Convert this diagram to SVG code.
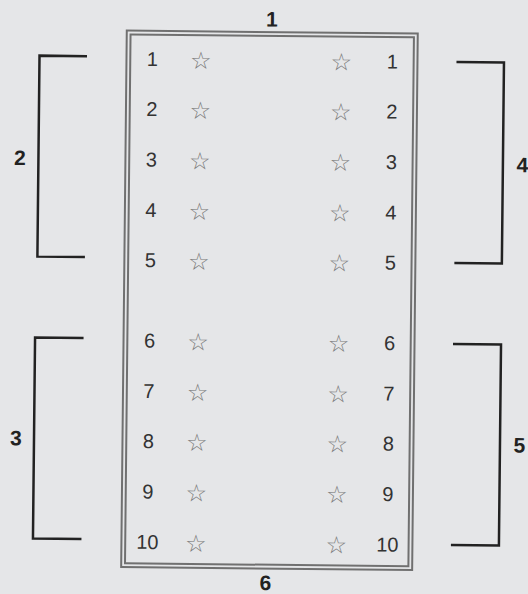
<svg xmlns="http://www.w3.org/2000/svg" width="528" height="594" viewBox="0 0 528 594">
<style>
.num{font-family:"Liberation Sans",Arial,sans-serif;font-size:20px;fill:#333;text-anchor:middle}
.lbl{font-family:"Liberation Sans",Arial,sans-serif;font-size:21px;font-weight:bold;fill:#222;text-anchor:middle}
.star{font-family:"DejaVu Sans",sans-serif;font-size:24px;fill:#7a7a7a;text-anchor:middle}
.br{fill:none;stroke:#222;stroke-width:2.5}
.frame{fill:none;stroke:#707070;stroke-width:2}
</style>
<rect x="0" y="0" width="528" height="594" fill="#e5e6e8"/>
<g transform="rotate(0.6 264 297)">
<g id="panel">
<rect class="frame" x="124" y="32" width="291" height="536.5"/>
<rect class="frame" x="127.8" y="35.8" width="283.4" height="528.9" stroke-width="1.6"/>
</g>
<text class="lbl" x="269" y="26.5">1</text>
<text class="lbl" x="268.5" y="590">6</text>
<g id="connectors">
<path id="bracket-2" class="br" d="M84.5,58 H37 V259 H84.5"/>
<path id="bracket-3" class="br" d="M84,340 H35.5 V541 H84"/>
<path id="bracket-4" class="br" d="M454,60 H501.5 V261 H454"/>
<path id="bracket-5" class="br" d="M453.5,342 H501.5 V543 H453.5"/>
</g>
<text class="lbl" x="18.5" y="167.5">2</text>
<text class="lbl" x="17.5" y="448">3</text>
<text class="lbl" x="521" y="169.5">4</text>
<text class="lbl" x="521" y="450">5</text>
<g id="left-col">
<text class="num" x="150" y="67.2">1</text>
<text class="num" x="150" y="117.2">2</text>
<text class="num" x="150" y="167.7">3</text>
<text class="num" x="150" y="218.2">4</text>
<text class="num" x="150" y="268.2">5</text>
<text class="num" x="150" y="348.7">6</text>
<text class="num" x="150" y="399.2">7</text>
<text class="num" x="150" y="449.2">8</text>
<text class="num" x="150" y="499.7">9</text>
<text class="num" x="150" y="550.2">10</text>
</g>
<g id="left-stars">
<text class="star" x="198.5" y="69.5">☆</text>
<text class="star" x="198.5" y="119.5">☆</text>
<text class="star" x="198.5" y="170">☆</text>
<text class="star" x="198.5" y="220.5">☆</text>
<text class="star" x="198.5" y="270.5">☆</text>
<text class="star" x="198.5" y="351">☆</text>
<text class="star" x="198.5" y="401.5">☆</text>
<text class="star" x="198.5" y="451.5">☆</text>
<text class="star" x="198.5" y="502">☆</text>
<text class="star" x="198.5" y="552.5">☆</text>
</g>
<g id="right-stars">
<text class="star" x="339" y="69.5">☆</text>
<text class="star" x="339" y="119.5">☆</text>
<text class="star" x="339" y="170">☆</text>
<text class="star" x="339" y="220.5">☆</text>
<text class="star" x="339" y="270.5">☆</text>
<text class="star" x="339" y="351">☆</text>
<text class="star" x="339" y="401.5">☆</text>
<text class="star" x="339" y="451.5">☆</text>
<text class="star" x="339" y="502">☆</text>
<text class="star" x="339" y="552.5">☆</text>
</g>
<g id="right-col">
<text class="num" x="390" y="67.2">1</text>
<text class="num" x="390" y="117.2">2</text>
<text class="num" x="390" y="167.7">3</text>
<text class="num" x="390" y="218.2">4</text>
<text class="num" x="390" y="268.2">5</text>
<text class="num" x="390" y="348.7">6</text>
<text class="num" x="390" y="399.2">7</text>
<text class="num" x="390" y="449.2">8</text>
<text class="num" x="390" y="499.7">9</text>
<text class="num" x="390" y="550.2">10</text>
</g>
</g>
</svg>
